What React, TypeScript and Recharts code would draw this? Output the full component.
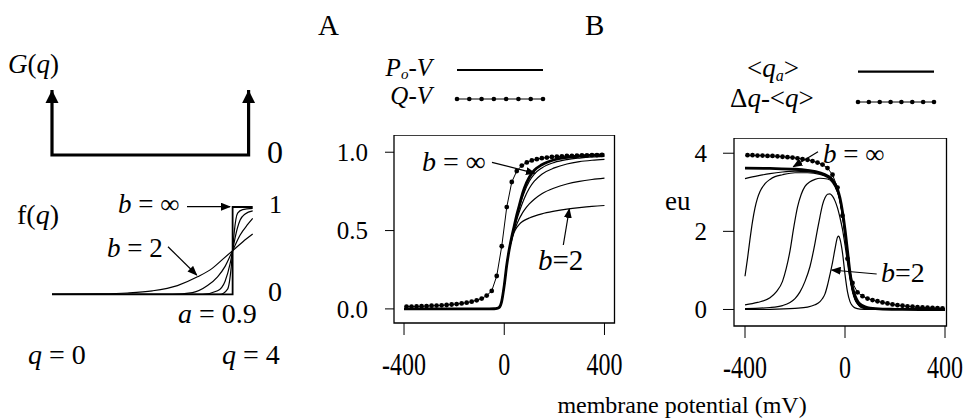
import React from "react";
import { LineChart, Line, XAxis, YAxis, ReferenceArea } from "recharts";

// ---------- left schematic: G(q) and f(q) ----------
const gQ = [0, 0, 4, 4];
const gVal = [1, 0, 0, 1];

const fInfQ = [0, 3.6, 3.6, 4];
const fInfVal = [0, 0, 1, 1];
const f5Q = [0, 3.35, 3.5, 3.57, 3.6, 3.63, 3.7, 3.8, 4];
const f5Val = [0, 0, 0.06, 0.3, 0.5, 0.7, 0.93, 0.97, 0.985];
const f4Q = [0, 3.0, 3.3, 3.45, 3.55, 3.6, 3.65, 3.75, 3.85, 4];
const f4Val = [0, 0, 0.04, 0.15, 0.35, 0.5, 0.65, 0.85, 0.92, 0.955];
const f3Q = [0, 2.4, 2.8, 3.1, 3.3, 3.45, 3.6, 3.75, 3.9, 4];
const f3Val = [0, 0, 0.02, 0.1, 0.2, 0.32, 0.5, 0.68, 0.8, 0.87];
const f2Q = [0, 1, 1.5, 2, 2.5, 2.9, 3.2, 3.4, 3.6, 3.8, 4];
const f2Val = [0, 0.005, 0.015, 0.04, 0.1, 0.2, 0.3, 0.4, 0.5, 0.6, 0.69];

// ---------- dotted series grid (mV) ----------
const dotMV = [
  -390, -370, -350, -330, -310, -290, -270, -250, -230, -210, -190, -170, -150, -130,
  -110, -90, -70, -50, -30, -10, 10, 30, 50, 70, 90, 110, 130, 150, 170, 190, 210,
  230, 250, 270, 290, 310, 330, 350, 370, 390,
];

// ---------- panel A ----------
const qvY = [
  0.015, 0.015, 0.016, 0.017, 0.018, 0.02, 0.021, 0.023, 0.025, 0.028, 0.031, 0.035,
  0.04, 0.046, 0.055, 0.066, 0.085, 0.115, 0.21, 0.4, 0.65, 0.81, 0.88, 0.915, 0.935,
  0.948, 0.956, 0.962, 0.966, 0.97, 0.972, 0.974, 0.976, 0.977, 0.978, 0.979, 0.98,
  0.981, 0.982, 0.983,
];
const poMV = [-400, -200, -60, -40, -30, -20, -10, 0, 10, 20, 30, 40, 50, 60, 70, 80, 100, 120, 150, 200, 250, 300, 350, 400];
const poInf = [0, 0, 0, 0.001, 0.003, 0.01, 0.05, 0.15, 0.28, 0.38, 0.46, 0.53, 0.6, 0.66, 0.72, 0.77, 0.84, 0.885, 0.92, 0.952, 0.967, 0.976, 0.981, 0.984];
const poB4 = [0, 0, 0, 0.001, 0.003, 0.01, 0.05, 0.15, 0.28, 0.38, 0.46, 0.525, 0.59, 0.65, 0.7, 0.745, 0.815, 0.86, 0.9, 0.935, 0.953, 0.963, 0.97, 0.974];
const poB3 = [0, 0, 0, 0.001, 0.003, 0.01, 0.05, 0.15, 0.28, 0.38, 0.455, 0.515, 0.57, 0.62, 0.665, 0.705, 0.77, 0.815, 0.86, 0.9, 0.925, 0.94, 0.949, 0.955];
const poB2b = [0, 0, 0, 0.001, 0.003, 0.01, 0.05, 0.15, 0.28, 0.38, 0.45, 0.5, 0.54, 0.575, 0.605, 0.63, 0.67, 0.7, 0.735, 0.772, 0.797, 0.814, 0.826, 0.835];
const poB2 = [0, 0, 0, 0.001, 0.003, 0.01, 0.05, 0.15, 0.28, 0.38, 0.44, 0.49, 0.52, 0.54, 0.555, 0.565, 0.58, 0.592, 0.607, 0.624, 0.637, 0.647, 0.655, 0.66];

// ---------- panel B ----------
const dqY = [
  3.95, 3.95, 3.94, 3.94, 3.93, 3.93, 3.92, 3.91, 3.9, 3.89, 3.87, 3.85, 3.83, 3.8,
  3.76, 3.71, 3.62, 3.45, 3.12, 2.4, 1.3, 0.68, 0.44, 0.34, 0.28, 0.24, 0.21, 0.18,
  0.155, 0.13, 0.11, 0.095, 0.08, 0.07, 0.06, 0.05, 0.045, 0.04, 0.035, 0.03,
];
const qaInfMV = [-400, -300, -200, -150, -100, -70, -50, -30, -20, -10, 0, 10, 20, 30, 40, 50, 60, 80, 100, 150, 200, 300, 400];
const qaInf = [3.62, 3.61, 3.59, 3.56, 3.5, 3.42, 3.32, 3.08, 2.85, 2.5, 2.05, 1.5, 0.95, 0.58, 0.35, 0.22, 0.14, 0.07, 0.035, 0.01, 0.005, 0, 0];
const qa5MV = [-400, -350, -300, -250, -200, -150, -100, -70, -50, -30, -20, -10, 0, 10, 20, 30, 40, 50, 60, 80, 100, 150, 400];
const qa5 = [3.35, 3.42, 3.48, 3.52, 3.54, 3.53, 3.48, 3.4, 3.3, 3.05, 2.82, 2.45, 2.0, 1.45, 0.9, 0.52, 0.3, 0.17, 0.1, 0.04, 0.015, 0, 0];
const qa4MV = [-400, -390, -380, -370, -360, -350, -340, -320, -300, -280, -250, -200, -150, -100, -70, -50, -30, -20, -10, 0, 10, 20, 30, 40, 50, 60, 80, 100, 150, 400];
const qa4 = [0.85, 1.3, 1.8, 2.25, 2.6, 2.85, 3.02, 3.22, 3.33, 3.4, 3.45, 3.5, 3.5, 3.46, 3.38, 3.28, 3.02, 2.8, 2.42, 1.98, 1.42, 0.88, 0.5, 0.28, 0.16, 0.09, 0.035, 0.012, 0, 0];
const qa3MV = [-400, -350, -300, -275, -250, -235, -220, -205, -190, -175, -160, -140, -120, -100, -70, -50, -30, -20, -10, 0, 10, 20, 30, 40, 50, 60, 80, 100, 150, 400];
const qa3 = [0.12, 0.18, 0.3, 0.45, 0.72, 1.05, 1.5, 2.1, 2.62, 2.95, 3.15, 3.27, 3.33, 3.36, 3.34, 3.25, 3.0, 2.78, 2.4, 1.95, 1.4, 0.85, 0.48, 0.27, 0.15, 0.08, 0.03, 0.01, 0, 0];
const qa2bMV = [-400, -300, -250, -220, -200, -180, -160, -140, -120, -110, -100, -90, -80, -70, -60, -50, -40, -30, -20, -10, 0, 10, 20, 30, 40, 50, 60, 80, 100, 150, 400];
const qa2b = [0.02, 0.05, 0.1, 0.18, 0.28, 0.45, 0.72, 1.1, 1.7, 2.05, 2.38, 2.68, 2.86, 2.95, 2.96, 2.9, 2.78, 2.6, 2.35, 2.05, 1.65, 1.2, 0.78, 0.45, 0.25, 0.14, 0.07, 0.025, 0.01, 0, 0];
const qa2MV = [-400, -300, -200, -150, -120, -100, -90, -80, -70, -60, -50, -40, -30, -25, -20, -10, 0, 10, 20, 30, 40, 60, 100, 400];
const qa2 = [0, 0.005, 0.03, 0.06, 0.12, 0.2, 0.28, 0.4, 0.62, 0.9, 1.2, 1.55, 1.85, 1.88, 1.8, 1.45, 0.9, 0.45, 0.2, 0.09, 0.04, 0.01, 0, 0];

const xTicks = [-400, 0, 400];
const aTicks = [0, 0.5, 1];
const bTicks = [0, 2, 4];

const zip = (xs: number[], ys: number[]) => xs.map((x, i) => ({ x, y: ys[i] }));

const SERIF = "Liberation Serif, Tinos, Times New Roman, Times, DejaVu Serif, serif";

const XTick = (props: any) => {
  const { x, y, payload } = props;
  return (
    <g transform={`translate(${x},${y + 38})`}>
      <text textAnchor="middle" fontSize={24} fill="#000" fontFamily={SERIF} transform="scale(1,1.3)">
        {payload.value}
      </text>
    </g>
  );
};

const Dot = (p: any) => <circle key={p.index} cx={p.cx} cy={p.cy} r={2.4} fill="#000" />;

const ArrowDot = (p: any) => {
  const { cx, cy, payload, index } = p;
  if (payload.y !== 1) return <g key={index} />;
  return <path key={index} d={`M${cx},${cy} L${cx - 6.5},${cy + 13} L${cx + 6.5},${cy + 13} Z`} fill="#000" />;
};

const thin = { stroke: "#000", strokeWidth: 1.2, dot: false, isAnimationActive: false } as const;
const yTick = { fill: "#000", fontSize: 25, fontFamily: SERIF };

function GChart() {
  return (
    <div style={{ position: "absolute", left: 41.7, top: 80 }}>
      <LineChart width={216.6} height={85} margin={{ top: 10, right: 10, bottom: 10, left: 10 }}>
        <XAxis hide type="number" dataKey="x" domain={[0, 4]} />
        <YAxis hide type="number" domain={[0, 1]} />
        <Line data={zip(gQ, gVal)} dataKey="y" type="linear" stroke="#000" strokeWidth={3.2} dot={ArrowDot} isAnimationActive={false} />
      </LineChart>
    </div>
  );
}

function FChart() {
  return (
    <div style={{ position: "absolute", left: 41.7, top: 196.7 }}>
      <LineChart width={220.7} height={107.3} margin={{ top: 10, right: 10, bottom: 10, left: 10 }}>
        <XAxis hide type="number" dataKey="x" domain={[0, 4]} />
        <YAxis hide type="number" domain={[0, 1]} />
        <Line data={zip(f2Q, f2Val)} dataKey="y" type="monotone" {...thin} />
        <Line data={zip(f3Q, f3Val)} dataKey="y" type="monotone" {...thin} />
        <Line data={zip(f4Q, f4Val)} dataKey="y" type="monotone" {...thin} />
        <Line data={zip(f5Q, f5Val)} dataKey="y" type="monotone" {...thin} />
        <Line data={zip(fInfQ, fInfVal)} dataKey="y" type="linear" stroke="#000" strokeWidth={1.8} dot={false} isAnimationActive={false} />
      </LineChart>
    </div>
  );
}

function PanelA() {
  return (
    <div style={{ position: "absolute", left: 333, top: 135 }}>
      <LineChart width={311.5} height={248} margin={{ top: 0, right: 30, bottom: 0, left: 0 }}>
        <XAxis type="number" dataKey="x" domain={[-440, 440]} ticks={xTicks} height={60} tickSize={12} axisLine={false} tickLine={{ stroke: "#000" }} tick={<XTick />} />
        <YAxis type="number" domain={[-0.09, 1.11]} ticks={aTicks} width={61} tickSize={9} tickMargin={17} axisLine={false} tickLine={{ stroke: "#000" }} tick={yTick} tickFormatter={(v: number) => v.toFixed(1)} />
        <ReferenceArea x1={-440} x2={440} y1={-0.09} y2={1.11} fill="none" stroke="#000" strokeWidth={1.3} />
        <Line data={zip(poMV, poB2)} dataKey="y" type="monotone" {...thin} />
        <Line data={zip(poMV, poB2b)} dataKey="y" type="monotone" {...thin} />
        <Line data={zip(poMV, poB3)} dataKey="y" type="monotone" {...thin} />
        <Line data={zip(poMV, poB4)} dataKey="y" type="monotone" {...thin} />
        <Line data={zip(poMV, poInf)} dataKey="y" type="monotone" stroke="#000" strokeWidth={2.8} dot={false} isAnimationActive={false} />
        <Line data={zip(dotMV, qvY)} dataKey="y" type="linear" stroke="#000" strokeWidth={1} dot={Dot} isAnimationActive={false} />
      </LineChart>
    </div>
  );
}

function PanelB() {
  return (
    <div style={{ position: "absolute", left: 684, top: 138 }}>
      <LineChart width={282.5} height={248} margin={{ top: 0, right: 20, bottom: 0, left: 0 }}>
        <XAxis type="number" dataKey="x" domain={[-444, 406]} ticks={xTicks} height={60} tickSize={12} axisLine={false} tickLine={{ stroke: "#000" }} tick={<XTick />} />
        <YAxis type="number" domain={[-0.423, 4.39]} ticks={bTicks} width={50} tickSize={11} tickMargin={16} axisLine={false} tickLine={{ stroke: "#000" }} tick={yTick} />
        <ReferenceArea x1={-444} x2={406} y1={-0.423} y2={4.39} fill="none" stroke="#000" strokeWidth={1.3} />
        <Line data={zip(qa2MV, qa2)} dataKey="y" type="monotone" {...thin} />
        <Line data={zip(qa2bMV, qa2b)} dataKey="y" type="monotone" {...thin} />
        <Line data={zip(qa3MV, qa3)} dataKey="y" type="monotone" {...thin} />
        <Line data={zip(qa4MV, qa4)} dataKey="y" type="monotone" {...thin} />
        <Line data={zip(qa5MV, qa5)} dataKey="y" type="monotone" {...thin} />
        <Line data={zip(qaInfMV, qaInf)} dataKey="y" type="monotone" stroke="#000" strokeWidth={2.8} dot={false} isAnimationActive={false} />
        <Line data={zip(dotMV, dqY)} dataKey="y" type="linear" stroke="#000" strokeWidth={1} dot={Dot} isAnimationActive={false} />
      </LineChart>
    </div>
  );
}

const legendDots = [0, 1, 2, 3, 4, 5, 6, 7];

function Overlay() {
  const I = { fontStyle: "italic" } as const;
  const arrow = (x1: number, y1: number, x2: number, y2: number) => (
    <line x1={x1} y1={y1} x2={x2} y2={y2} stroke="#000" strokeWidth={1.2} markerEnd="url(#ah)" />
  );
  const dotted = (x1: number, x2: number, y: number) => (
    <g>
      <line x1={x1} y1={y} x2={x2} y2={y} stroke="#000" strokeWidth={1} />
      {legendDots.map((i) => (
        <circle key={i} cx={x1 + ((x2 - x1) * i) / 7} cy={y} r={2.3} fill="#000" />
      ))}
    </g>
  );
  return (
    <svg width={967} height={419} style={{ position: "absolute", left: 0, top: 0, pointerEvents: "none", fontFamily: SERIF }} fill="#000" fontFamily={SERIF}>
      <defs>
        <marker id="ah" markerWidth={10} markerHeight={8} refX={9} refY={4} orient="auto" markerUnits="userSpaceOnUse">
          <path d="M0,0 L10,4 L0,8 z" fill="#000" />
        </marker>
      </defs>
      {/* left schematic */}
      <text x={8} y={73} fontSize={27}>
        <tspan style={I}>G</tspan>(<tspan style={I}>q</tspan>)
      </text>
      <text x={267} y={163} fontSize={32}>0</text>
      <text x={17} y={224} fontSize={28}>
        f(<tspan style={I}>q</tspan>)
      </text>
      <text x={269} y={213} fontSize={26}>1</text>
      <text x={268} y={301} fontSize={28}>0</text>
      <text x={118} y={213} fontSize={27}>
        <tspan style={I}>b</tspan> = ∞
      </text>
      {arrow(187, 206.7, 230, 206.7)}
      <text x={107} y={257} fontSize={27}>
        <tspan style={I}>b</tspan> = 2
      </text>
      {arrow(168, 246.7, 196.7, 275)}
      <text x={178} y={323} fontSize={28}>
        <tspan style={I}>a</tspan> = 0.9
      </text>
      <text x={28} y={364} fontSize={28}>
        <tspan style={I}>q</tspan> = 0
      </text>
      <text x={222} y={364} fontSize={28}>
        <tspan style={I}>q</tspan> = 4
      </text>

      {/* panel letters */}
      <text x={318} y={35} fontSize={29}>A</text>
      <text x={585} y={35} fontSize={29}>B</text>

      {/* legend A */}
      <text x={432} y={76} fontSize={25} textAnchor="end" style={I}>
        P<tspan fontSize={15} dy={3}>o</tspan><tspan dy={-3}>-V</tspan>
      </text>
      <line x1={457} y1={70} x2={543} y2={70} stroke="#000" strokeWidth={2.2} />
      <text x={432} y={104} fontSize={25} textAnchor="end" style={I}>Q-V</text>
      {dotted(457, 543, 99)}

      {/* legend B */}
      <text x={747} y={77} fontSize={27}>
        &lt;<tspan style={I}>q</tspan><tspan style={I} fontSize={16} dy={4}>a</tspan><tspan dy={-4}>&gt;</tspan>
      </text>
      <line x1={858} y1={71.7} x2={934} y2={71.7} stroke="#000" strokeWidth={2.2} />
      <text x={730} y={107} fontSize={27}>
        Δ<tspan style={I}>q</tspan>-&lt;<tspan style={I}>q</tspan>&gt;
      </text>
      {dotted(858, 934, 102)}

      {/* panel A annotations */}
      <text x={422} y={171} fontSize={28}>
        <tspan style={I}>b</tspan> = ∞
      </text>
      {arrow(492, 162.3, 535, 173.3)}
      <text x={538} y={270} fontSize={29}>
        <tspan style={I}>b</tspan>=2
      </text>
      {arrow(563.3, 245, 569.3, 209)}

      {/* panel B annotations */}
      <text x={823} y={163} fontSize={27}>
        <tspan style={I}>b</tspan> = ∞
      </text>
      {arrow(818, 151.7, 793.3, 166.7)}
      <text x={881} y={281.7} fontSize={28}>
        <tspan style={I}>b</tspan>=2
      </text>
      {arrow(876.7, 274, 831.7, 270)}
      <text x={665} y={210} fontSize={27}>eu</text>

      <text x={682} y={413} fontSize={24} textAnchor="middle">membrane potential (mV)</text>
    </svg>
  );
}

export default function App() {
  return (
    <div style={{ position: "absolute", left: 0, top: 0, width: 967, height: 419, background: "#fff", fontFamily: SERIF, overflow: "hidden" }}>
      <GChart />
      <FChart />
      <PanelA />
      <PanelB />
      <Overlay />
    </div>
  );
}
